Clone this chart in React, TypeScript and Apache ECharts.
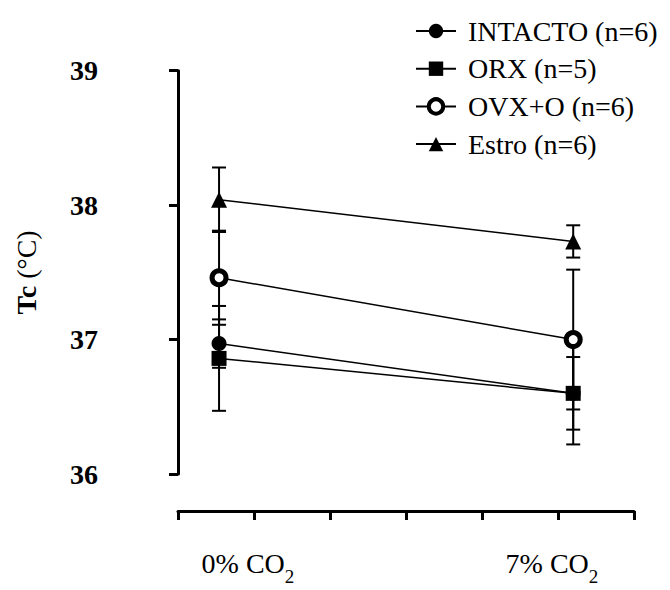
import React, { useEffect, useRef } from "react";
import * as echarts from "echarts";

// Categories (CO2 conditions) and group names
const categories = ["0% CO2", "7% CO2"];
const groups = ["INTACTO (n=6)", "ORX (n=5)", "OVX+O (n=6)", "Estro (n=6)"];

// Mean Tc (°C) per group for [0% CO2, 7% CO2]
const intacto = [36.97, 36.6];
const orx = [36.86, 36.6];
const ovx = [37.46, 37.0];
const estro = [38.04, 37.73];

// Standard errors
const intactoSE = [0.18, 0.27];
const orxSE = [0.39, 0.38];
const ovxSE = [0.35, 0.52];
const estroSE = [0.24, 0.12];

const yTicks = [36, 37, 38, 39];

// layout (not data)
const catPos = [0.54, 5.2];
const labelPos = [0.92, 4.92];

const FONT = "Liberation Serif, Times New Roman, serif";

export default function App() {
  const ref = useRef<HTMLDivElement>(null);
  useEffect(() => {
    if (!ref.current) return;
    const chart = echarts.init(ref.current, null, { renderer: "svg" });
    const means = [intacto, orx, ovx, estro];
    const ses = [intactoSE, orxSE, ovxSE, estroSE];
    const symbols = ["circle", "rect", "circle", "triangle"];
    const sizes = [15, 15, 14, 16];

    const errData: number[][] = [];
    means.forEach((m, g) => {
      m.forEach((v, i) => {
        errData.push([catPos[i], v, v - ses[g][i], v + ses[g][i]]);
      });
    });

    const lineSeries = groups.map((name, g) => ({
      type: "line",
      name,
      data: means[g].map((v, i) => [catPos[i], v]),
      symbol: symbols[g],
      symbolSize: sizes[g],
      showAllSymbol: true,
      lineStyle: { color: "#000", width: 1.5 },
      itemStyle:
        g === 2
          ? { color: "#fff", borderColor: "#000", borderWidth: 5 }
          : { color: "#000", borderColor: "#000", borderWidth: 0 },
      z: 3 + g,
    }));

    chart.setOption({
      animation: false,
      backgroundColor: "#fff",
      textStyle: { fontFamily: FONT },
      grid: { left: 178, right: 36, top: 70.7, bottom: 116 },
      legend: {
        data: groups.map((name, g) =>
          g === 2
            ? { name, itemStyle: { color: "#fff", borderColor: "#000", borderWidth: 4 } }
            : { name }
        ),
        orient: "vertical",
        left: 410,
        top: 12,
        itemWidth: 40,
        itemHeight: 18,
        itemGap: 9.7,
        textStyle: {
          fontFamily: FONT,
          fontSize: 28,
          color: "#000",
          lineHeight: 28,
          padding: [0, 0, 0, 7],
        },
      },
      xAxis: {
        type: "value",
        min: 0,
        max: 6,
        interval: 1,
        offset: 37,
        splitLine: { show: false },
        axisLine: { show: true, lineStyle: { color: "#000", width: 3 } },
        axisTick: { show: true, length: 9, lineStyle: { color: "#000", width: 3 } },
        axisLabel: { show: false },
      },
      yAxis: {
        type: "value",
        min: yTicks[0],
        max: yTicks[yTicks.length - 1],
        interval: 1,
        offset: 34,
        splitLine: { show: false },
        axisLine: { show: true, lineStyle: { color: "#000", width: 3 } },
        axisTick: { show: true, length: 9, lineStyle: { color: "#000", width: 3 } },
        axisLabel: {
          margin: 46,
          fontFamily: FONT,
          fontSize: 28,
          fontWeight: "bold",
          color: "#000",
        },
        name: "{b|Tc }{n|(°C)}",
        nameLocation: "middle",
        nameGap: 104,
        nameRotate: 90,
        nameTextStyle: {
          rich: {
            b: { fontFamily: FONT, fontSize: 28, fontWeight: "bold", color: "#000" },
            n: { fontFamily: FONT, fontSize: 28, color: "#000" },
          },
        },
      },
      series: [
        {
          type: "custom",
          name: "err",
          data: errData,
          encode: { x: 0, y: [1, 2, 3] },
          z: 2,
          renderItem: (params: any, api: any) => {
            const x = api.value(0);
            const lo = api.coord([x, api.value(2)]);
            const hi = api.coord([x, api.value(3)]);
            const hw = 7;
            const st = { stroke: "#000", lineWidth: 2 };
            return {
              type: "group",
              children: [
                { type: "line", shape: { x1: lo[0], y1: lo[1], x2: hi[0], y2: hi[1] }, style: st },
                { type: "line", shape: { x1: lo[0] - hw, y1: lo[1], x2: lo[0] + hw, y2: lo[1] }, style: st },
                { type: "line", shape: { x1: hi[0] - hw, y1: hi[1], x2: hi[0] + hw, y2: hi[1] }, style: st },
              ],
            };
          },
        },
        {
          type: "custom",
          name: "xlabels",
          data: labelPos.map((p, i) => [p, i]),
          encode: { x: 0 },
          z: 2,
          silent: true,
          renderItem: (params: any, api: any) => {
            const p = api.coord([api.value(0), 36]);
            const idx = api.value(1);
            const c = categories[idx];
            const main = c.endsWith("2") ? c.slice(0, -1) : c;
            const sub = c.endsWith("2") ? "2" : "";
            return {
              type: "text",
              x: p[0],
              y: p[1] + 103,
              style: {
                text: `{n|${main}}{s|${sub}}`,
                align: "center",
                verticalAlign: "bottom",
                rich: {
                  n: { fontFamily: FONT, fontSize: 28, fill: "#000", verticalAlign: "bottom", lineHeight: 28 },
                  s: { fontFamily: FONT, fontSize: 19, fill: "#000", verticalAlign: "bottom", lineHeight: 28, padding: [0, 0, -9, 0] },
                },
              },
            };
          },
        },
        ...lineSeries,
      ],
    });
    return () => chart.dispose();
  }, []);
  return (
    <div
      ref={ref}
      style={{ position: "fixed", left: 0, top: 0, width: 670, height: 590, background: "#fff" }}
    />
  );
}
